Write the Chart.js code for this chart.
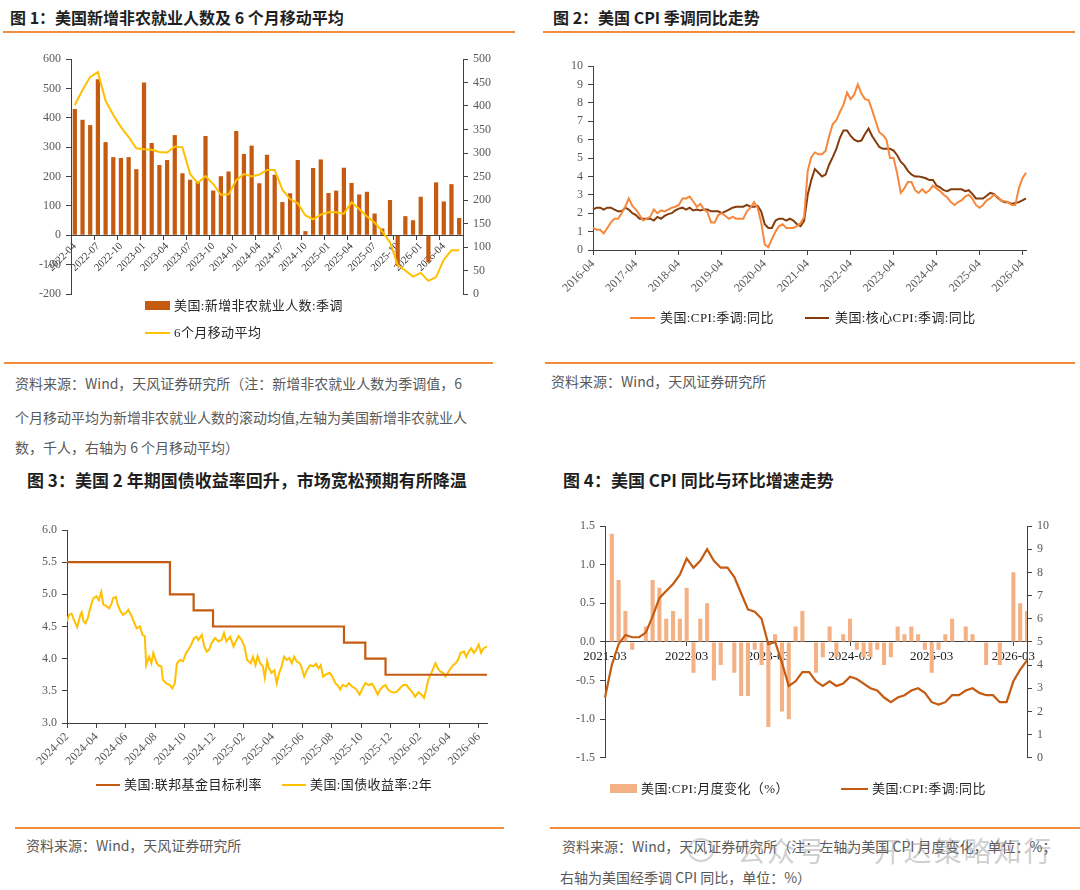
<!DOCTYPE html>
<html lang="zh-CN">
<head>
<meta charset="utf-8">
<title>美国就业、通胀与利率</title>
<script src="https://cdn.jsdelivr.net/npm/chart.js@4.4.1/dist/chart.umd.min.js"></script>
<style>
html,body{margin:0;padding:0;background:#fff;}
body{width:1080px;height:890px;position:relative;overflow:hidden;font-family:"Noto Sans CJK SC","Noto Sans",sans-serif;}
.t{position:absolute;font-weight:700;color:#1f1f1f;white-space:nowrap;line-height:1;}
.rule{position:absolute;height:2px;background:#F28C3C;}
.src{position:absolute;font-size:14px;color:#595959;white-space:nowrap;line-height:1;}
.lg{position:absolute;font-family:"Liberation Serif","Noto Sans CJK SC",serif;font-size:13px;color:#262626;white-space:nowrap;line-height:1;letter-spacing:0.4px;}
.sw{position:absolute;}
canvas{position:absolute;}
.wm{position:absolute;font-size:28px;color:rgba(130,130,130,0.38);white-space:nowrap;line-height:1;letter-spacing:2px;}
</style>
</head>
<body>

<div class="t" style="left:10px;top:9px;font-size:16px;">图 1：美国新增非农就业人数及 6 个月移动平均</div>
<div class="t" style="left:553px;top:9px;font-size:16px;">图 2：美国 CPI 季调同比走势</div>
<div class="rule" style="left:3px;top:31px;width:512px;"></div>
<div class="rule" style="left:543px;top:31px;width:532px;"></div>

<canvas id="c1" width="525" height="265" style="left:0px;top:45px;width:525px;height:265px;"></canvas>
<canvas id="c2" width="540" height="265" style="left:540px;top:50px;width:540px;height:265px;"></canvas>

<div class="sw" style="left:145px;top:301px;width:25px;height:9px;background:#C55A11;"></div>
<div class="lg" style="left:174px;top:299px;">美国:新增非农就业人数:季调</div>
<div class="sw" style="left:145px;top:332px;width:25px;height:2px;background:#FFC000;"></div>
<div class="lg" style="left:174px;top:326px;">6个月移动平均</div>

<div class="sw" style="left:630px;top:317px;width:25px;height:2px;background:#F5883D;"></div>
<div class="lg" style="left:660px;top:311px;">美国:CPI:季调:同比</div>
<div class="sw" style="left:805px;top:317px;width:24px;height:2px;background:#843C0C;"></div>
<div class="lg" style="left:835px;top:311px;">美国:核心CPI:季调:同比</div>

<div class="rule" style="left:4px;top:362px;width:489px;"></div>
<div class="rule" style="left:545px;top:362px;width:530px;"></div>

<div class="src" style="left:15px;top:376px;">资料来源：Wind，天风证券研究所（注：新增非农就业人数为季调值，6</div>
<div class="src" style="left:15px;top:410px;">个月移动平均为新增非农就业人数的滚动均值,左轴为美国新增非农就业人</div>
<div class="src" style="left:15px;top:440px;">数，千人，右轴为 6 个月移动平均）</div>
<div class="src" style="left:551px;top:374px;">资料来源：Wind，天风证券研究所</div>

<div class="t" style="left:27px;top:471px;font-size:17px;">图 3：美国 2 年期国债收益率回升，市场宽松预期有所降温</div>
<div class="t" style="left:563px;top:471px;font-size:17px;">图 4：美国 CPI 同比与环比增速走势</div>

<canvas id="c3" width="540" height="265" style="left:0px;top:515px;width:540px;height:265px;"></canvas>
<canvas id="c4" width="535" height="258" style="left:545px;top:512px;width:535px;height:258px;"></canvas>

<div class="sw" style="left:96px;top:784px;width:24px;height:2px;background:#C55A11;"></div>
<div class="lg" style="left:124px;top:778px;">美国:联邦基金目标利率</div>
<div class="sw" style="left:282px;top:784px;width:24px;height:2px;background:#FFC000;"></div>
<div class="lg" style="left:310px;top:778px;">美国:国债收益率:2年</div>

<div class="sw" style="left:610px;top:784px;width:27px;height:9px;background:#F4B183;"></div>
<div class="lg" style="left:641px;top:782px;">美国:CPI:月度变化（%）</div>
<div class="sw" style="left:841px;top:788px;width:27px;height:2px;background:#C55A11;"></div>
<div class="lg" style="left:872px;top:782px;">美国:CPI:季调:同比</div>

<div class="rule" style="left:15px;top:827px;width:489px;"></div>
<div class="rule" style="left:550px;top:827px;width:530px;"></div>

<div class="src" style="left:26px;top:838px;">资料来源：Wind，天风证券研究所</div>
<div class="src" style="left:562px;top:839px;">资料来源：Wind，天风证券研究所（注：左轴为美国 CPI 月度变化，单位：%；</div>
<div class="src" style="left:560px;top:870px;">右轴为美国经季调 CPI 同比，单位：%）</div>

<div style="position:absolute;left:688px;top:838px;width:22px;height:20px;border:2px solid rgba(130,130,130,0.35);border-radius:50%;"></div>
<div class="wm" style="left:737px;top:836px;">公众号 · 开达策略知行</div>

<script>
// ---------- 图1 数据 ----------
const nfpStart = '2022-04';
const nfpChange = [430,393,375,531,317,266,263,266,225,520,314,239,256,341,211,189,184,338,152,201,217,355,277,305,177,274,206,113,143,256,14,229,258,144,152,230,178,139,148,74,23,120,-105,65,51,131,-92,180,115,174,59];
const nfpMovingAvg = [402,434,462,472,411,381,355,334,310,308,307,302,301,314,312,255,236,251,234,211,212,242,255,250,254,264,264,222,202,193,167,159,169,174,174,171,195,181,165,152,133,110,62,50,37,45,28,36,73,93,93];

// ---------- 图2 数据 ----------
const cpiStart = '2016-04';
const cpiHeadline = [1.2,1.1,1.1,0.9,1.2,1.5,1.7,1.7,2.0,2.35,
 2.8,2.4,2.2,1.9,1.6,1.7,1.8,2.2,2.0,2.15,
 2.1,2.2,2.3,2.35,2.45,2.8,2.8,2.9,2.65,2.35,
 2.5,2.2,2.05,1.5,1.5,1.9,2.0,1.85,1.7,1.8,
 1.7,1.7,1.7,2.1,2.3,2.6,2.3,1.5,0.3,0.15,
 0.6,1.0,1.3,1.4,1.2,1.2,1.2,1.3,1.45,1.8,
 4.3,5.05,5.3,5.2,5.2,5.4,6.2,6.85,7.05,7.5,
 7.9,8.55,8.2,8.45,9.0,8.5,8.2,8.15,7.6,7.0,
 6.4,6.25,6.0,5.0,5.0,4.15,3.1,3.35,3.7,3.7,
 3.25,3.1,3.3,3.1,3.25,3.5,3.35,3.2,3.0,2.85,
 2.6,2.45,2.6,2.7,2.9,3.0,2.8,2.45,2.3,2.45,
 2.7,2.8,3.0,2.9,2.7,2.65,2.6,2.45,2.45,3.35,
 3.9,4.2];
const cpiCore = [2.2,2.3,2.3,2.2,2.3,2.3,2.2,2.1,2.1,2.3,
 2.2,2.0,1.9,1.7,1.7,1.7,1.7,1.6,1.8,1.7,
 1.85,1.95,2.0,2.15,2.25,2.3,2.2,2.3,2.15,2.2,
 2.15,2.2,2.2,2.1,2.1,2.1,2.0,2.1,2.2,2.3,
 2.35,2.35,2.35,2.45,2.35,2.35,2.4,2.1,1.4,1.2,
 1.2,1.6,1.7,1.7,1.6,1.7,1.6,1.4,1.3,1.6,
 3.0,3.8,4.4,4.2,4.0,4.1,4.65,5.05,5.5,6.1,
 6.5,6.5,6.2,6.0,5.9,5.95,6.3,6.6,6.2,5.9,
 5.6,5.5,5.5,5.5,5.4,5.15,4.8,4.6,4.3,4.1,
 4.0,4.0,3.95,3.9,3.8,3.8,3.5,3.4,3.25,3.2,
 3.3,3.3,3.3,3.3,3.2,3.25,3.05,2.8,2.8,2.8,
 2.95,3.1,3.05,2.85,2.7,2.6,2.6,2.5,2.55,2.6,
 2.7,2.8];

// ---------- 图3 数据 ----------
const yieldBase = '2024-02';
const yieldTickLabels = ['2024-02','2024-04','2024-06','2024-08','2024-10','2024-12','2025-02','2025-04','2025-06','2025-08','2025-10','2025-12','2026-02','2026-04','2026-06'];
const fedDates = ['2024-02-01','2024-09-01','2024-10-20','2024-11-29','2025-08-27','2025-10-10','2025-11-21','2026-06-18'];
const fedRates = [5.5,5.0,4.75,4.5,4.25,4.0,3.75,3.75];
const yieldDates = ['2024-02-01','2024-02-05','2024-02-10','2024-02-15','2024-02-21','2024-02-27','2024-03-01','2024-03-05','2024-03-09','2024-03-14','2024-03-17','2024-03-23','2024-03-26',
 '2024-04-01','2024-04-06','2024-04-11','2024-04-15','2024-04-21','2024-04-27','2024-05-02','2024-05-05','2024-05-11','2024-05-15','2024-05-20','2024-05-26',
 '2024-06-01','2024-06-06','2024-06-13','2024-06-16','2024-06-23','2024-06-30','2024-07-05','2024-07-10','2024-07-13','2024-07-19','2024-07-24','2024-07-28',
 '2024-08-04','2024-08-09','2024-08-14','2024-08-17','2024-08-24','2024-09-01','2024-09-06','2024-09-11','2024-09-15','2024-09-21','2024-09-28',
 '2024-10-04','2024-10-09','2024-10-15','2024-10-21','2024-10-26','2024-10-30','2024-11-06','2024-11-11','2024-11-16','2024-11-21','2024-11-26',
 '2024-12-03','2024-12-10','2024-12-17','2024-12-22','2024-12-27','2025-01-04','2025-01-11','2025-01-16','2025-01-22','2025-01-28',
 '2025-02-03','2025-02-08','2025-02-15','2025-02-19','2025-02-24','2025-02-28','2025-03-05','2025-03-11','2025-03-15','2025-03-20','2025-03-24','2025-03-29',
 '2025-04-04','2025-04-09','2025-04-14','2025-04-19','2025-04-24','2025-04-29','2025-05-05','2025-05-10','2025-05-15','2025-05-20','2025-05-26','2025-05-30',
 '2025-06-05','2025-06-11','2025-06-17','2025-06-24','2025-06-29','2025-07-04','2025-07-09','2025-07-14','2025-07-21','2025-07-28',
 '2025-08-04','2025-08-09','2025-08-13','2025-08-19','2025-08-24','2025-09-01','2025-09-06','2025-09-12','2025-09-19','2025-09-24','2025-09-28',
 '2025-10-03','2025-10-10','2025-10-17','2025-10-24','2025-10-30','2025-11-05','2025-11-10','2025-11-16','2025-11-21','2025-11-26',
 '2025-12-01','2025-12-08','2025-12-15','2025-12-21','2025-12-28','2026-01-04','2026-01-09','2026-01-15','2026-01-22','2026-01-29',
 '2026-02-04','2026-02-09','2026-02-13','2026-02-17','2026-02-23','2026-02-28','2026-03-03','2026-03-08','2026-03-13','2026-03-19','2026-03-24','2026-03-29',
 '2026-04-04','2026-04-09','2026-04-14','2026-04-19','2026-04-24','2026-05-01','2026-05-06','2026-05-11','2026-05-16','2026-05-22','2026-05-27',
 '2026-06-01','2026-06-06','2026-06-11','2026-06-18'];
const yieldValues = [4.58,4.68,4.70,4.60,4.49,4.67,4.72,4.58,4.55,4.63,4.73,4.89,4.94,
 4.97,4.91,5.04,4.84,4.82,4.78,4.86,4.94,4.96,4.84,4.75,4.68,
 4.71,4.76,4.66,4.60,4.47,4.50,4.37,4.35,3.90,4.03,3.93,4.09,
 3.93,3.89,3.88,3.67,3.62,3.59,3.54,3.62,3.92,3.98,3.96,
 4.09,4.14,4.22,4.32,4.34,4.29,4.37,4.19,4.11,4.14,4.24,
 4.32,4.27,4.29,4.40,4.27,4.34,4.19,4.27,4.35,4.29,
 4.19,3.98,3.93,4.03,3.90,4.04,3.93,3.88,3.70,3.96,3.85,3.78,
 3.82,3.62,3.78,3.88,4.03,3.98,4.01,3.93,4.03,3.96,3.93,3.88,
 3.72,3.83,3.90,3.88,3.92,3.85,3.90,3.72,3.76,3.78,
 3.70,3.62,3.59,3.52,3.59,3.57,3.62,3.57,3.54,3.49,3.44,
 3.52,3.62,3.59,3.61,3.54,3.44,3.52,3.57,3.59,3.52,
 3.49,3.47,3.49,3.54,3.59,3.59,3.54,3.49,3.41,3.48,
 3.44,3.39,3.52,3.67,3.78,3.88,3.93,3.85,3.80,3.78,3.72,3.78,
 3.85,3.90,3.93,3.98,4.09,4.11,4.03,4.11,4.16,4.09,4.14,
 4.22,4.09,4.16,4.19];

// ---------- 图4 数据 ----------
const cpi4Start = '2021-03';
const cpiMoM = [0,1.4,0.8,0.4,-0.1,0,0.2,0.8,0.7,0.3,
 0.4,0.3,0.7,-0.4,0.3,0.5,-0.5,-0.3,0,-0.4,
 -0.7,-0.7,-0.1,-0.3,-1.1,0.1,-0.9,-1.0,0.2,0.4,
 0,-0.4,-0.2,0.2,-0.2,0.1,0.3,-0.1,-0.2,-0.2,
 -0.1,-0.3,-0.2,0.2,0.1,0.2,0.1,-0.1,-0.4,-0.1,
 0.1,0.3,0,0.2,0.1,0,-0.3,0,-0.3,0,
 0.9,0.5,0.4];
const cpiYoY = [2.6,4.0,4.9,5.3,5.2,5.2,5.4,6.1,6.9,7.2,
 7.5,7.9,8.6,8.2,8.5,9.0,8.5,8.2,8.2,7.8,
 7.1,6.4,6.3,6.0,4.9,5.0,4.1,3.1,3.3,3.7,
 3.7,3.3,3.1,3.3,3.1,3.2,3.5,3.4,3.2,3.0,
 2.9,2.6,2.4,2.6,2.7,2.9,3.0,2.8,2.4,2.3,
 2.4,2.7,2.7,2.9,3.0,2.8,2.7,2.7,2.4,2.4,
 3.3,3.8,4.2];

// ---------- helpers ----------
function monthRange(start, n){
  const [y,m] = start.split('-').map(Number); const out = [];
  for (let i=0;i<n;i++){ const t=(m-1)+i; out.push((y+Math.floor(t/12))+'-'+String(t%12+1).padStart(2,'0')); }
  return out;
}
function monthsSince(base, d){
  const [by,bm] = base.split('-').map(Number);
  const [y,m,dd] = d.split('-').map(Number);
  const dim = new Date(y, m, 0).getDate();
  return (y-by)*12 + (m-bm) + (dd-1)/dim;
}
const nfpMonths = monthRange(nfpStart, nfpChange.length);
const cpiMonths = monthRange(cpiStart, cpiHeadline.length);
const cpi4Months = monthRange(cpi4Start, cpiMoM.length);

const AX = '#404040', TK = '#595959', CLEAR = 'rgba(0,0,0,0)';
const SERIF = '"Liberation Serif","Times New Roman",serif';
Chart.defaults.font.family = SERIF;
const commonPlugins = { legend:{display:false}, tooltip:{enabled:false} };
function vAxis(pos, min, max, step, width, fmt){
  return {
    position: pos, min, max,
    border:{display:true,color:AX,width:1},
    grid:{display:true,drawOnChartArea:false,drawTicks:true,tickLength:5,color:AX},
    ticks:{stepSize:step,color:TK,font:{family:SERIF,size:12},padding:5,callback: fmt || (v=>v)},
    afterFit: s => { s.width = width; }
  };
}

// ---------- 图1 ----------
new Chart(document.getElementById('c1'), {
  type:'bar',
  data:{ labels:nfpMonths, datasets:[
    {type:'line', label:'6个月移动平均', data:nfpMovingAvg, yAxisID:'y1', borderColor:'#FFC000', borderWidth:2, pointRadius:0, tension:0, order:1},
    {type:'bar', label:'美国:新增非农就业人数:季调', data:nfpChange, yAxisID:'y', backgroundColor:'#C55A11', barPercentage:0.55, categoryPercentage:1, order:2}
  ]},
  options:{
    responsive:false, animation:false, devicePixelRatio:1,
    layout:{padding:{top:14,bottom:16,left:0,right:0}},
    plugins:commonPlugins,
    scales:{
      x:{ position:{y:0}, offset:true, z:1,
          border:{display:true,color:AX,width:1},
          grid:{display:true,drawOnChartArea:false,offset:true,tickLength:4,color:c=> (c.index%3===0)?AX:CLEAR},
          ticks:{autoSkip:false,minRotation:45,maxRotation:45,color:'#333333',font:{family:SERIF,size:10.5},padding:1,
                 callback:(v,i)=> i%3===0 ? nfpMonths[i] : ''} },
      y: vAxis('left', -200, 600, 100, 71),
      y1: vAxis('right', 0, 500, 50, 62)
    }
  }
});

// ---------- 图2 ----------
new Chart(document.getElementById('c2'), {
  type:'line',
  data:{ labels:cpiMonths, datasets:[
    {label:'美国:核心CPI:季调:同比', data:cpiCore, borderColor:'#843C0C', borderWidth:2, pointRadius:0, tension:0, order:2},
    {label:'美国:CPI:季调:同比', data:cpiHeadline, borderColor:'#F5883D', borderWidth:2, pointRadius:0, tension:0, order:1}
  ]},
  options:{
    responsive:false, animation:false, devicePixelRatio:1,
    layout:{padding:{top:16,bottom:0,left:0,right:54}},
    plugins:commonPlugins,
    scales:{
      x:{ offset:false,
          border:{display:true,color:AX,width:1},
          grid:{display:true,drawOnChartArea:false,offset:false,tickLength:5,color:c=> (cpiMonths[c.index]||'').endsWith('-04')?AX:CLEAR},
          ticks:{autoSkip:false,minRotation:45,maxRotation:45,color:TK,font:{family:SERIF,size:12},padding:2,
                 callback:(v,i)=> cpiMonths[i].endsWith('-04') ? cpiMonths[i] : ''},
          afterFit: s => { s.height = 65; } },
      y: vAxis('left', 0, 10, 1, 53)
    }
  }
});

// ---------- 图3 ----------
const fedPoints = fedDates.map((d,i)=>({x:monthsSince(yieldBase,d), y:fedRates[i]}));
const yieldPoints = yieldDates.map((d,i)=>({x:monthsSince(yieldBase,d), y:yieldValues[i]}));
const yieldMax = monthsSince(yieldBase, yieldDates[yieldDates.length-1]);
new Chart(document.getElementById('c3'), {
  type:'line',
  data:{ datasets:[
    {label:'美国:国债收益率:2年', data:yieldPoints, borderColor:'#FFC000', borderWidth:2, pointRadius:0, tension:0, order:2},
    {label:'美国:联邦基金目标利率', data:fedPoints, borderColor:'#C55A11', borderWidth:2.2, pointRadius:0, stepped:'before', order:1}
  ]},
  options:{
    responsive:false, animation:false, devicePixelRatio:1,
    layout:{padding:{top:15,bottom:0,left:0,right:53}},
    plugins:commonPlugins,
    scales:{
      x:{ type:'linear', min:0, max:yieldMax,
          afterBuildTicks: s => { s.ticks = yieldTickLabels.map(l => ({value: monthsSince(yieldBase, l+'-01')})); },
          border:{display:true,color:AX,width:1},
          grid:{display:true,drawOnChartArea:false,tickLength:5,color:AX},
          ticks:{autoSkip:false,minRotation:45,maxRotation:45,color:TK,font:{family:SERIF,size:12},padding:2,
                 callback:(v,i)=> yieldTickLabels[i]},
          afterFit: s => { s.height = 57; } },
      y: vAxis('left', 3, 6, 0.5, 67, v => Number(v).toFixed(1))
    }
  }
});

// ---------- 图4 ----------
new Chart(document.getElementById('c4'), {
  type:'bar',
  data:{ labels:cpi4Months, datasets:[
    {type:'line', label:'美国:CPI:季调:同比', data:cpiYoY, yAxisID:'y1', borderColor:'#C55A11', borderWidth:2.2, pointRadius:0, tension:0, order:1},
    {type:'bar', label:'美国:CPI:月度变化（%）', data:cpiMoM, yAxisID:'y', backgroundColor:'#F4B183', barPercentage:0.6, categoryPercentage:1, order:2}
  ]},
  options:{
    responsive:false, animation:false, devicePixelRatio:1,
    layout:{padding:{top:14,bottom:10,left:0,right:0}},
    plugins:commonPlugins,
    scales:{
      x:{ position:{y:0}, offset:false, z:1,
          border:{display:true,color:AX,width:1},
          grid:{display:true,drawOnChartArea:false,offset:false,tickLength:4,color:c=> (cpi4Months[c.index]||'').endsWith('-03')?AX:CLEAR},
          ticks:{autoSkip:false,minRotation:0,maxRotation:0,color:'#1a1a1a',font:{family:SERIF,size:13},padding:3,
                 callback:(v,i)=> cpi4Months[i].endsWith('-03') ? cpi4Months[i] : ''} },
      y: vAxis('left', -1.5, 1.5, 0.5, 60, v => Number(v).toFixed(1)),
      y1: vAxis('right', 0, 10, 1, 53)
    }
  }
});
</script>
</body>
</html>
